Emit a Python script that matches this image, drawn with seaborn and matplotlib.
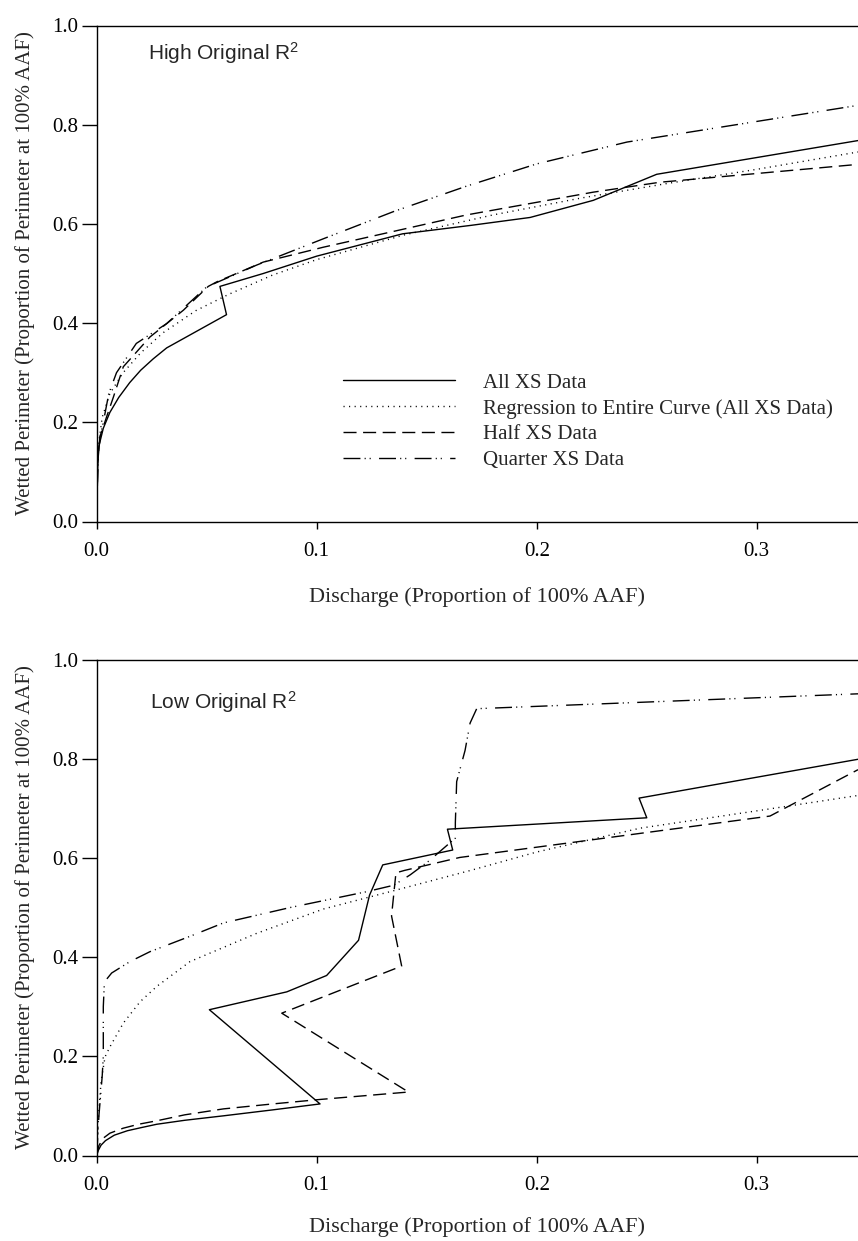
import numpy as np
import pandas as pd
import matplotlib
matplotlib.use("Agg")
import matplotlib.pyplot as plt
import seaborn as sns

# ---------------- data ----------------
series_names = [
    "All XS Data",
    "Regression to Entire Curve (All XS Data)",
    "Half XS Data",
    "Quarter XS Data",
]

# High original R^2 site
high_all_x = [0.0, 0.0003, 0.0007, 0.001, 0.003, 0.006, 0.010, 0.015, 0.020, 0.0257, 0.0318, 0.059, 0.056, 0.0757, 0.10, 0.139, 0.170, 0.197, 0.2257, 0.2545, 0.346]
high_all_y = [0.0, 0.08, 0.140, 0.152, 0.188, 0.220, 0.250, 0.280, 0.305, 0.328, 0.350, 0.417, 0.474, 0.50, 0.535, 0.580, 0.597, 0.613, 0.6475, 0.700, 0.768]

high_reg_x = [0.0, 0.0003, 0.001, 0.0025, 0.006, 0.012, 0.02, 0.03, 0.045, 0.06, 0.08, 0.10, 0.14, 0.18, 0.22, 0.26, 0.30, 0.346]
high_reg_y = [0.0, 0.10, 0.16, 0.21, 0.258, 0.30, 0.34, 0.38, 0.425, 0.458, 0.497, 0.528, 0.578, 0.618, 0.652, 0.682, 0.710, 0.745]

high_half_x = [0.0, 0.0005, 0.0015, 0.0045, 0.0076, 0.0121, 0.0242, 0.0394, 0.0507, 0.0545, 0.0757, 0.103, 0.168, 0.2257, 0.256, 0.346]
high_half_y = [0.0, 0.12, 0.171, 0.211, 0.251, 0.312, 0.372, 0.426, 0.474, 0.483, 0.523, 0.553, 0.618, 0.664, 0.684, 0.720]

high_quarter_x = [0.0, 0.0005, 0.0015, 0.003, 0.0055, 0.009, 0.018, 0.0318, 0.05, 0.0727, 0.103, 0.135, 0.168, 0.20, 0.241, 0.346]
high_quarter_y = [0.0, 0.12, 0.17, 0.20, 0.258, 0.30, 0.359, 0.399, 0.473, 0.517, 0.570, 0.625, 0.676, 0.721, 0.765, 0.839]

# Low original R^2 site
low_all_x = [0.0, 0.0007, 0.002, 0.004, 0.008, 0.014, 0.020, 0.0273, 0.040, 0.0576, 0.080, 0.1015, 0.0512, 0.0864, 0.1045, 0.119, 0.124, 0.130, 0.1618, 0.1594, 0.25, 0.2465, 0.346]
low_all_y = [0.0, 0.010, 0.021, 0.030, 0.041, 0.050, 0.056, 0.063, 0.071, 0.080, 0.092, 0.104, 0.294, 0.330, 0.363, 0.434, 0.525, 0.586, 0.616, 0.658, 0.681, 0.7207, 0.799]

low_reg_x = [0.0, 0.0005, 0.001, 0.002, 0.0038, 0.006, 0.0121, 0.0197, 0.0273, 0.0424, 0.0727, 0.103, 0.1333, 0.17, 0.2, 0.2469, 0.30, 0.346]
low_reg_y = [0.0, 0.05, 0.09, 0.15, 0.199, 0.219, 0.267, 0.310, 0.341, 0.391, 0.448, 0.497, 0.532, 0.575, 0.612, 0.660, 0.695, 0.726]

low_half_x = [0.0, 0.001, 0.003, 0.006, 0.012, 0.019, 0.0273, 0.040, 0.0576, 0.080, 0.1015, 0.1417, 0.0841, 0.1386, 0.134, 0.136, 0.14, 0.165, 0.306, 0.346]
low_half_y = [0.0, 0.02, 0.035, 0.045, 0.055, 0.063, 0.070, 0.082, 0.094, 0.104, 0.113, 0.128, 0.287, 0.382, 0.483, 0.570, 0.575, 0.601, 0.6845, 0.778]

low_quarter_x = [0.0, 0.001, 0.0025, 0.003, 0.003, 0.0035, 0.0068, 0.0151, 0.0242, 0.0424, 0.0576, 0.0879, 0.1227, 0.135, 0.1425, 0.151, 0.163, 0.163, 0.1636, 0.1674, 0.1697, 0.1727, 0.346]
low_quarter_y = [0.0, 0.08, 0.16, 0.20, 0.30, 0.35, 0.368, 0.391, 0.411, 0.442, 0.469, 0.50, 0.532, 0.545, 0.566, 0.594, 0.64, 0.671, 0.754, 0.8166, 0.872, 0.901, 0.931]

x_ticks = [0.0, 0.1, 0.2, 0.3]
y_ticks = [0.0, 0.2, 0.4, 0.6, 0.8, 1.0]

panel_titles = ["High Original R$^{2}$", "Low Original R$^{2}$"]
x_label = "Discharge (Proportion of 100% AAF)"
y_label = "Wetted Perimeter (Proportion of Perimeter at 100% AAF)"

# ---------------- style ----------------
sns.set_style("ticks")
plt.rcParams["font.family"] = ["Liberation Serif", "DejaVu Serif"]
plt.rcParams["mathtext.default"] = "regular"
plt.rcParams["lines.scale_dashes"] = False
plt.rcParams["axes.linewidth"] = 1.0

line_styles = {
    series_names[0]: "-",
    series_names[1]: (0, (0.8, 3.2)),
    series_names[2]: (0, (9.4, 4.7)),
    series_names[3]: (0, (12.2, 3.0, 0.8, 2.8, 0.8, 6.0)),
}


def make_frame(xs_list, ys_list):
    parts = []
    for name, xs, ys in zip(series_names, xs_list, ys_list):
        parts.append(pd.DataFrame({"x": xs, "y": ys, "series": name,
                                   "order": np.arange(len(xs))}))
    return pd.concat(parts, ignore_index=True)


high_df = make_frame([high_all_x, high_reg_x, high_half_x, high_quarter_x],
                     [high_all_y, high_reg_y, high_half_y, high_quarter_y])
low_df = make_frame([low_all_x, low_reg_x, low_half_x, low_quarter_x],
                    [low_all_y, low_reg_y, low_half_y, low_quarter_y])

W, H = 858, 1241
fig = plt.figure(figsize=(W / 100, H / 100), dpi=100)
left_px, right_px = 96.7, 858
panels_px = [(25.5, 521.5), (659.6, 1155.5)]
axes = []
for top_px, bot_px in panels_px:
    ax = fig.add_axes([left_px / W, 1 - bot_px / H,
                       (right_px - left_px) / W, (bot_px - top_px) / H])
    axes.append(ax)

font_size = 15
xlabel_y = [-0.133, -0.125]
for ax, df, title, xl_y in zip(axes, [high_df, low_df], panel_titles, xlabel_y):
    for name in series_names:
        sub = df[df["series"] == name].sort_values("order")
        sns.lineplot(data=sub, x="x", y="y", ax=ax, sort=False, estimator=None,
                     color="black", linewidth=1.0, linestyle=line_styles[name],
                     label=name, legend=False)
    ax.set_xlim(0, 0.346)
    ax.set_ylim(0, 1.0)
    ax.set_xticks(x_ticks)
    ax.set_yticks(y_ticks)
    ax.set_xticklabels([f"{t:.1f}" for t in x_ticks], fontsize=font_size)
    ax.set_yticklabels([f"{t:.1f}" for t in y_ticks], fontsize=font_size)
    ax.tick_params(axis="x", direction="out", length=5, width=1.0, pad=10, colors="black")
    ax.tick_params(axis="y", direction="out", length=11, width=1.0, pad=2, colors="black")
    ax.spines["right"].set_visible(False)
    for s in ["top", "left", "bottom"]:
        ax.spines[s].set_color("black")
    ax.set_xlabel(x_label, fontsize=font_size + 1)
    ax.set_ylabel(y_label, fontsize=font_size)
    ax.xaxis.set_label_coords(0.5, xl_y)
    ax.yaxis.set_label_coords(-0.081, 0.5)

axes[0].text(0.0233, 0.945, panel_titles[0], fontsize=15, va="center", ha="left",
             family=["Liberation Sans", "DejaVu Sans"])
axes[1].text(0.0243, 0.915, panel_titles[1], fontsize=15, va="center", ha="left",
             family=["Liberation Sans", "DejaVu Sans"])

handles, labels = axes[0].get_legend_handles_labels()
axes[0].legend(handles, labels, loc="center left", bbox_to_anchor=(0.3235, 0.2014),
               frameon=False, fontsize=font_size, handlelength=5.4,
               handletextpad=1.3, labelspacing=0.3, borderpad=0, borderaxespad=0)

fig.savefig("out.png", dpi=100)
